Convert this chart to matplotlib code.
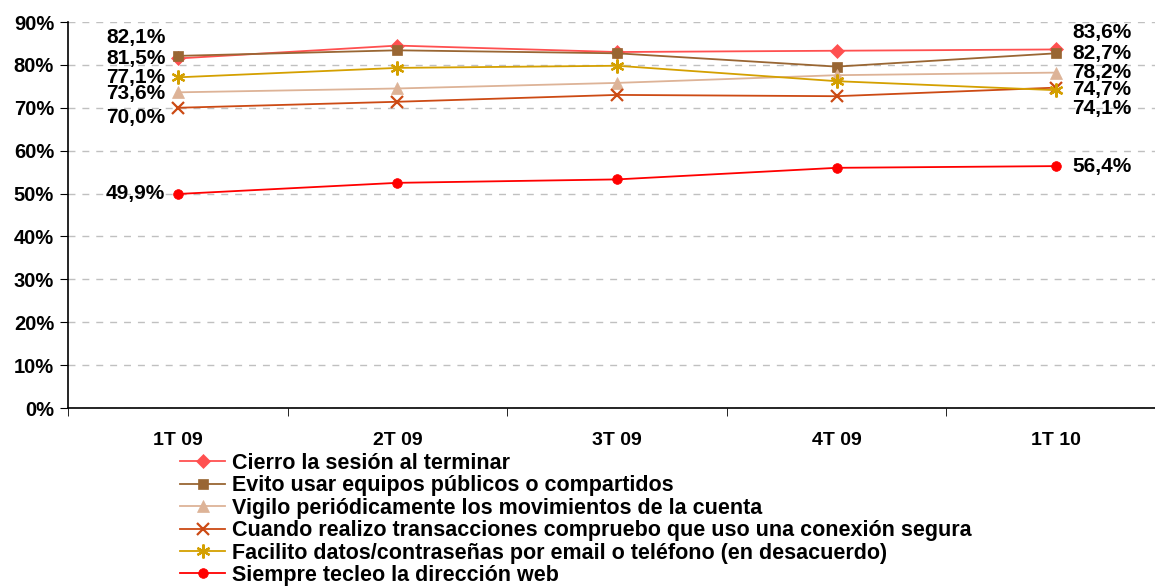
import numpy as np
import matplotlib.pyplot as plt

plt.rcParams['font.family'] = ['Liberation Sans', 'DejaVu Sans']
plt.rcParams['font.weight'] = 'bold'

# trimestres
periodos = ['1T 09', '2T 09', '3T 09', '4T 09', '1T 10']

# porcentaje de usuarios por hábito
cierro = [81.5, 84.5, 83.0, 83.3, 83.6]
evito = [82.1, 83.4, 82.7, 79.6, 82.7]
vigilo = [73.6, 74.5, 75.8, 77.6, 78.2]
cuando = [70.0, 71.4, 73.0, 72.7, 74.7]
facilito = [77.1, 79.3, 79.8, 76.2, 74.1]
siempre = [49.9, 52.5, 53.3, 56.0, 56.4]

nombres = ['Cierro la sesión al terminar',
           'Evito usar equipos públicos o compartidos',
           'Vigilo periódicamente los movimientos de la cuenta',
           'Cuando realizo transacciones compruebo que uso una conexión segura',
           'Facilito datos/contraseñas por email o teléfono (en desacuerdo)',
           'Siempre tecleo la dirección web']

series = [cierro, evito, vigilo, cuando, facilito, siempre]
colores = ['#FF5050', '#996633', '#DDB397', '#CC4A14', '#D4A000', '#FF0000']
marcadores = ['D', 's', '^', 'x', (6, 2, 0), 'o']
tamanos = [7, 7, 8, 9, 10, 7]

fig = plt.figure(figsize=(11.55, 5.87), dpi=100)
ax = fig.add_axes([68 / 1155, 179 / 587, 1098 / 1155, 386 / 587])

x = np.arange(len(periodos))
for vals, nom, c, m, ms in zip(series, nombres, colores, marcadores, tamanos):
    ax.plot(x, vals, color=c, marker=m, markersize=ms, linewidth=1.3,
            markeredgewidth=1.6 if m in ('x', (6, 2, 0)) else 0.5,
            markeredgecolor=c, label=nom)

# etiquetas de valor en el primer y último trimestre
desp_ini = [0, 13, -1, -7, 0, 0]
desp_fin = [12, 0, 0, -1, -13, 0]
for vals, d in zip(series, desp_ini):
    ax.annotate(f'{vals[0]:.1f}%'.replace('.', ','), (x[0], vals[0]),
                xytext=(-9, d), textcoords='offset points',
                ha='right', va='center', fontsize=15, fontweight='bold')
for vals, d in zip(series, desp_fin):
    ax.annotate(f'{vals[-1]:.1f}%'.replace('.', ','), (x[-1], vals[-1]),
                xytext=(11.5, d), textcoords='offset points',
                ha='left', va='center', fontsize=15, fontweight='bold')

ax.set_xlim(-0.5, 4.5)
ax.set_ylim(0, 90)
ax.set_yticks(np.arange(0, 91, 10))
ax.set_yticklabels([f'{v}%' for v in range(0, 91, 10)], fontsize=14.5, fontweight='bold')
ax.set_xticks(x)
ax.set_xticklabels(periodos, fontsize=14, fontweight='bold')
ax.set_xticks(np.arange(-0.5, 4.6, 1), minor=True)
ax.tick_params(axis='x', which='major', length=0, pad=17)
ax.tick_params(axis='x', which='minor', length=6, direction='out')
ax.tick_params(axis='y', length=6, direction='out', pad=4)

ax.grid(axis='y', linestyle=(0, (5, 5)), color='#C0C0C0', linewidth=1)
ax.set_axisbelow(True)
for s in ['top', 'right']:
    ax.spines[s].set_visible(False)
ax.spines['left'].set_linewidth(1.2)
ax.spines['bottom'].set_linewidth(1.2)

fig.legend(loc='upper left', bbox_to_anchor=(180 / 1155, 1 - 453 / 587),
           frameon=False, prop={'weight': 'bold', 'size': 15.5},
           labelspacing=0.065, handlelength=2.1, handletextpad=0.3,
           borderpad=0, borderaxespad=0)

fig.savefig('out.png', dpi=100)
